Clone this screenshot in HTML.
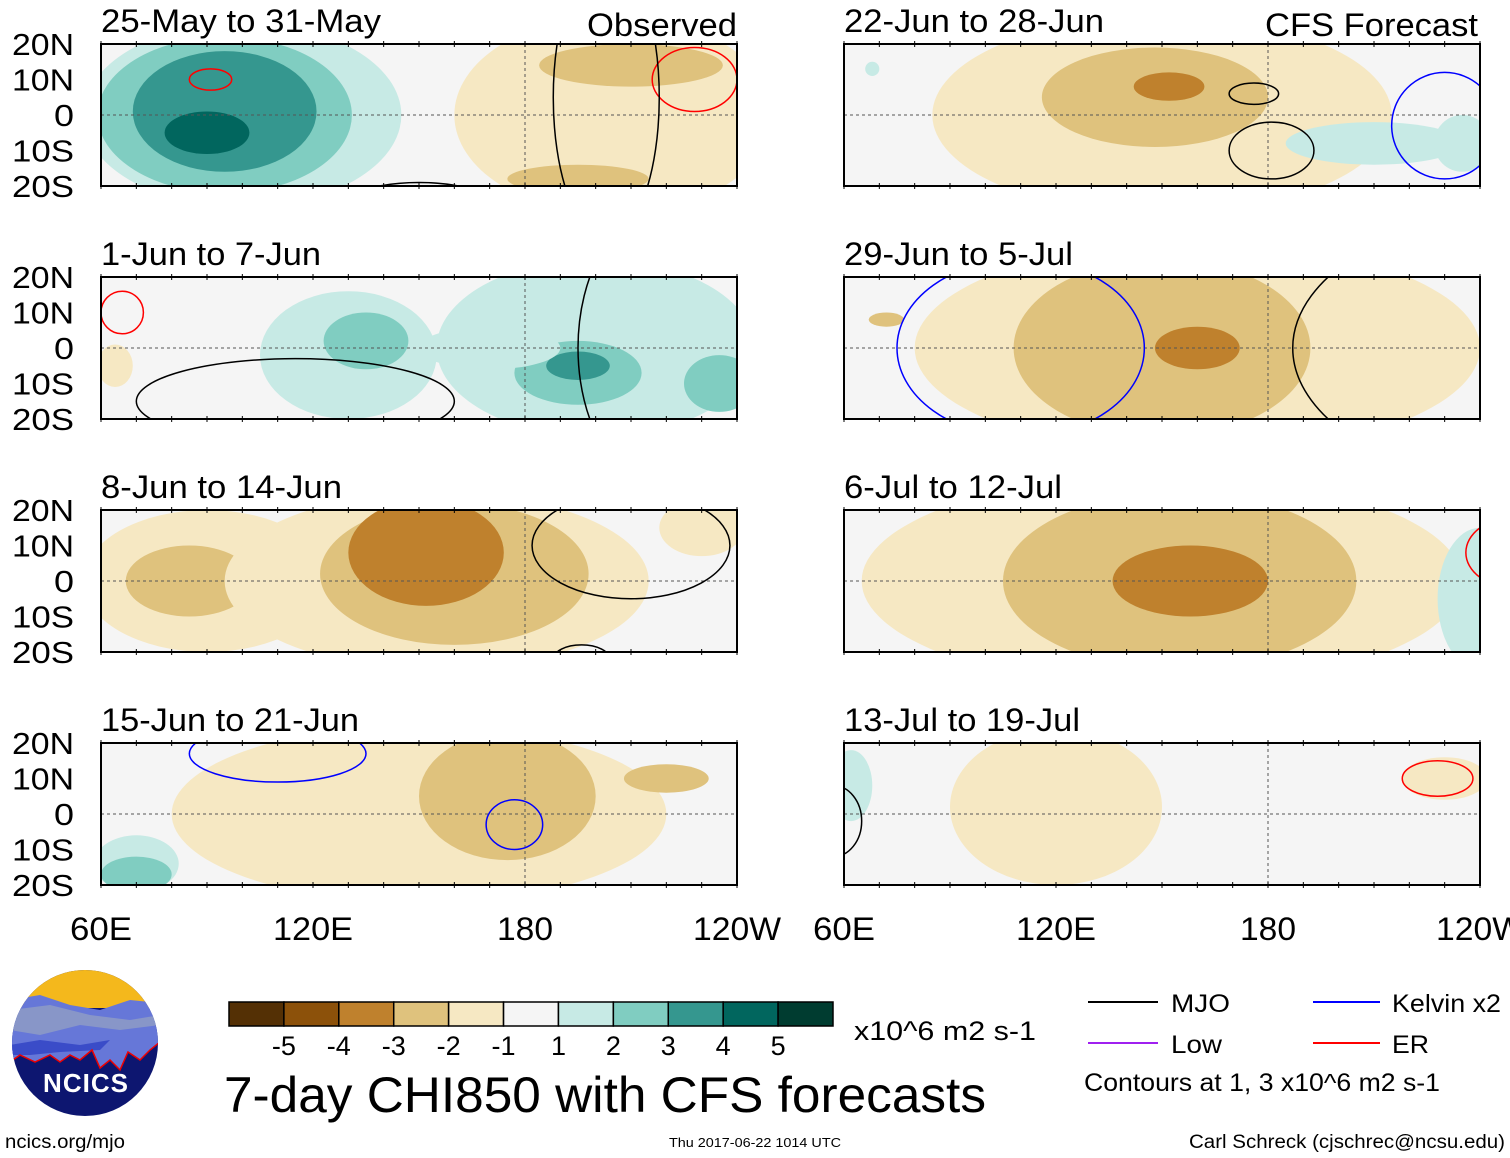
<!DOCTYPE html>
<html><head><meta charset="utf-8"><style>
html,body{margin:0;padding:0;background:#fff;}
svg{display:block;font-family:"Liberation Sans",sans-serif;}
</style></head><body>
<svg id="fig" width="1510" height="1158" viewBox="0 0 1510 1158">
<defs>
<clipPath id="logoclip"><circle cx="85" cy="1043" r="73"/></clipPath>
</defs>
<g id="panels"></g>
<g id="labels"></g>
<g id="colorbar"></g>
<g font-size="25" fill="#000">
<line x1="1088" y1="1002" x2="1158" y2="1002" stroke="#000" stroke-width="2"/>
<text x="1171" y="1012" textLength="59" lengthAdjust="spacingAndGlyphs">MJO</text>
<line x1="1313" y1="1002" x2="1380" y2="1002" stroke="#0000ff" stroke-width="2"/>
<text x="1392" y="1012" textLength="109" lengthAdjust="spacingAndGlyphs">Kelvin x2</text>
<line x1="1088" y1="1043" x2="1158" y2="1043" stroke="#a020f0" stroke-width="2"/>
<text x="1171" y="1053" textLength="51" lengthAdjust="spacingAndGlyphs">Low</text>
<line x1="1313" y1="1043" x2="1380" y2="1043" stroke="#ff0000" stroke-width="2"/>
<text x="1392" y="1053" textLength="37" lengthAdjust="spacingAndGlyphs">ER</text>
<text x="1084" y="1091" textLength="356" lengthAdjust="spacingAndGlyphs">Contours at 1, 3 x10^6 m2 s-1</text>
</g>
<text x="224" y="1112" font-size="50" textLength="762" lengthAdjust="spacingAndGlyphs">7-day CHI850 with CFS forecasts</text>
<text x="854" y="1040" font-size="27" textLength="182" lengthAdjust="spacingAndGlyphs">x10^6 m2 s-1</text>
<text x="5" y="1148" font-size="19" textLength="120" lengthAdjust="spacingAndGlyphs">ncics.org/mjo</text>
<text x="669" y="1147" font-size="13" textLength="172" lengthAdjust="spacingAndGlyphs">Thu 2017-06-22 1014 UTC</text>
<text x="1505" y="1148" font-size="19" text-anchor="end" textLength="316" lengthAdjust="spacingAndGlyphs">Carl Schreck (cjschrec@ncsu.edu)</text>
<g clip-path="url(#logoclip)">
<rect x="10" y="968" width="150" height="150" fill="#0d1670"/>
<rect x="10" y="968" width="150" height="40" fill="#f4b81c"/>
<path d="M10 1000 L40 995 L70 1005 L100 1010 L130 1000 L160 1003 L160 1042 L150 1050 L140 1060 L128 1052 L120 1070 L110 1060 L100 1068 L92 1050 L80 1060 L70 1055 L60 1062 L50 1055 L35 1062 L20 1055 L10 1062Z" fill="#6677d8"/>
<path d="M10 1010 L50 1005 L90 1015 L130 1020 L160 1015 L160 1025 L120 1030 L80 1025 L40 1035 L10 1030Z" fill="#8896c8"/>
<path d="M10 1045 L40 1040 L80 1045 L110 1040 L100 1050 L60 1052 L30 1055 L10 1055Z" fill="#3a4cc8"/>
<path d="M10 1062 L20 1055 L35 1062 L50 1055 L60 1062 L70 1055 L80 1060 L92 1050 L100 1068 L110 1060 L120 1070 L128 1052 L140 1060 L150 1050 L160 1042" fill="none" stroke="#e00" stroke-width="1.5"/>
<text x="86" y="1092" font-size="26" font-weight="bold" fill="#fff" text-anchor="middle" letter-spacing="1">NCICS</text>
</g>
</svg>
<script>
const NS='http://www.w3.org/2000/svg';
const levelColors=['#543005','#8c510a','#bf812d','#dfc27d','#f6e8c3','#f5f5f5','#c7eae5','#80cdc1','#35978f','#01665e','#003c30'];
const levelTicks=['-5','-4','-3','-2','-1','1','2','3','4','5'];
const panelTitles=['25-May to 31-May','1-Jun to 7-Jun','8-Jun to 14-Jun','15-Jun to 21-Jun','22-Jun to 28-Jun','29-Jun to 5-Jul','6-Jul to 12-Jul','13-Jul to 19-Jul'];
const latTicks=['20N','10N','0','10S','20S'];
const lonTicks=['60E','120E','180','120W'];
// anomaly blobs per panel: [lon, lat, rxDeg, ryDeg, level(-5..5)]
const blobs0=[[100,0,45,26,1],[95,0,36,22,2],[95,1,26,17,3],[90,-5,12,6,4],[205,0,45,28,-1],[210,14,26,6,-2],[195,-18,20,4,-2]];
const blobs1=[[130,-2,25,18,1],[135,2,12,8,2],[200,0,45,25,1],[195,-7,18,9,2],[195,-5,9,4,3],[235,-10,10,8,2],[64,-5,5,6,-1],[170,0,20,6,1]];
const blobs2=[[90,0,35,20,-1],[85,0,18,10,-2],[155,0,60,25,-1],[160,2,38,20,-2],[152,8,22,15,-3],[230,15,12,8,-1]];
const blobs3=[[150,0,70,25,-1],[175,5,25,18,-2],[220,10,12,4,-2],[70,-14,12,8,1],[70,-17,10,5,2]];
const blobs4=[[150,0,65,28,-1],[148,5,32,14,-2],[152,8,10,4,-3],[210,-8,25,6,1],[235,-8,8,8,1],[68,13,2,2,1]];
const blobs5=[[160,0,80,30,-1],[150,0,42,25,-2],[160,0,12,6,-3],[72,8,5,2,-2]];
const blobs6=[[150,0,85,30,-1],[155,0,50,25,-2],[158,0,22,10,-3],[240,-5,12,20,1]];
const blobs7=[[120,2,30,22,-1],[230,10,12,6,-1],[62,8,6,10,1]];
const panelBlobs=[blobs0,blobs1,blobs2,blobs3,blobs4,blobs5,blobs6,blobs7];
// contour ellipses: [lon, lat, rxDeg, ryDeg, color]
const contours0=[[91,10,6,3,'#ff0000'],[228,10,12,9,'#ff0000'],[150,-25,20,6,'#000'],[203,5,15,40,'#000']];
const contours1=[[66,10,6,6,'#ff0000'],[115,-15,45,12,'#000'],[220,0,25,40,'#000']];
const contours2=[[210,10,28,15,'#000'],[196,-22,8,4,'#000']];
const contours3=[[177,-3,8,7,'#0000ff'],[110,17,25,8,'#0000ff']];
const contours4=[[176,6,7,3,'#000'],[181,-10,12,8,'#000'],[230,-3,15,15,'#0000ff']];
const contours5=[[262,0,75,40,'#000'],[110,0,35,25,'#0000ff']];
const contours6=[[250,8,14,10,'#ff0000']];
const contours7=[[228,10,10,5,'#ff0000'],[57,-2,8,10,'#000']];
const panelContours=[contours0,contours1,contours2,contours3,contours4,contours5,contours6,contours7];
const panelLeft=[101,101,101,101,844,844,844,844];
const panelTop=[44,277,510,743,44,277,510,743];
const PW=636,PH=142;
function xs(p,lon){return panelLeft[p]+(lon-60)/180*PW;}
function ys(p,lat){return panelTop[p]+(20-lat)/40*PH;}
function mk(tag,attrs,parent){const e=document.createElementNS(NS,tag);for(const k in attrs)e.setAttribute(k,attrs[k]);parent.appendChild(e);return e;}
const titleW=[280,220,241,258,260,229,218,236];
const G=document.getElementById('panels');
for(let p=0;p<8;p++){
  const g=mk('g',{},G);
  
  
  const cid='clip'+p;
  const cp=mk('clipPath',{id:cid},g);
  mk('rect',{x:panelLeft[p],y:panelTop[p],width:PW,height:PH},cp);
  const bg=mk('rect',{x:panelLeft[p],y:panelTop[p],width:PW,height:PH,fill:'#f5f5f5'},g);
  
  
  const inner=mk('g',{'clip-path':'url(#'+cid+')'},g);
  panelBlobs[p].forEach(b=>{
    const e=mk('ellipse',{cx:xs(p,b[0]),cy:ys(p,b[1]),rx:b[2]/180*PW,ry:b[3]/40*PH,fill:levelColors[b[4]+5]},inner);
    
    
  });
  mk('line',{x1:panelLeft[p],x2:panelLeft[p]+PW,y1:ys(p,0),y2:ys(p,0),stroke:'#555','stroke-dasharray':'3,3','stroke-width':1},inner);
  mk('line',{x1:xs(p,180),x2:xs(p,180),y1:panelTop[p],y2:panelTop[p]+PH,stroke:'#555','stroke-dasharray':'3,3','stroke-width':1},inner);
  panelContours[p].forEach(c=>{
    const e=mk('ellipse',{cx:xs(p,c[0]),cy:ys(p,c[1]),rx:c[2]/180*PW,ry:c[3]/40*PH,fill:'none',stroke:c[4],'stroke-width':1.5},inner);
    
    
  });
  mk('rect',{x:panelLeft[p],y:panelTop[p],width:PW,height:PH,fill:'none',stroke:'#000','stroke-width':2},g);
  for(let lon=60;lon<=240;lon+=10){
    mk('line',{x1:xs(p,lon),x2:xs(p,lon),y1:panelTop[p]-3,y2:panelTop[p]+3,stroke:'#000'},g);
    mk('line',{x1:xs(p,lon),x2:xs(p,lon),y1:panelTop[p]+PH-3,y2:panelTop[p]+PH+3,stroke:'#000'},g);
  }
  const t=mk('text',{x:panelLeft[p],y:panelTop[p]-12,'font-size':32,textLength:titleW[p],lengthAdjust:'spacingAndGlyphs'},g);
  t.textContent=panelTitles[p];
  
  
}
const L=document.getElementById('labels');
const t1=mk('text',{x:587,y:36,'font-size':32,textLength:150,lengthAdjust:'spacingAndGlyphs'},L);t1.textContent='Observed';


const t2=mk('text',{x:1265,y:36,'font-size':32,textLength:213,lengthAdjust:'spacingAndGlyphs'},L);t2.textContent='CFS Forecast';


const latW=[62,62,20,62,62];
for(let p=0;p<4;p++){
  latTicks.forEach((s,i)=>{
    const t=mk('text',{x:74-latW[i],y:ys(p,20-i*10)+11,'font-size':31,textLength:latW[i],lengthAdjust:'spacingAndGlyphs'},L);
    t.textContent=s;
    
    
  });
}
const lonW=[62,80,56,88];
[0,4].forEach(p=>{
  lonTicks.forEach((s,i)=>{
    const t=mk('text',{x:xs(p,60+i*60)-lonW[i]/2,y:940,'font-size':32,textLength:lonW[i],lengthAdjust:'spacingAndGlyphs'},L);
    t.textContent=s;
    
    
  });
});
const C=document.getElementById('colorbar');
const cbX=229,cbW=604/11;
levelColors.forEach((c,i)=>{
  const r=mk('rect',{x:cbX+i*cbW,y:1002,width:cbW,height:24,fill:c,stroke:'#000','stroke-width':1.5},C);
  
  
});
levelTicks.forEach((s,i)=>{
  const t=mk('text',{x:cbX+(i+1)*cbW,y:1055,'font-size':27,'text-anchor':'middle'},C);
  t.textContent=s;
  
  
});
</script>
</body></html>
